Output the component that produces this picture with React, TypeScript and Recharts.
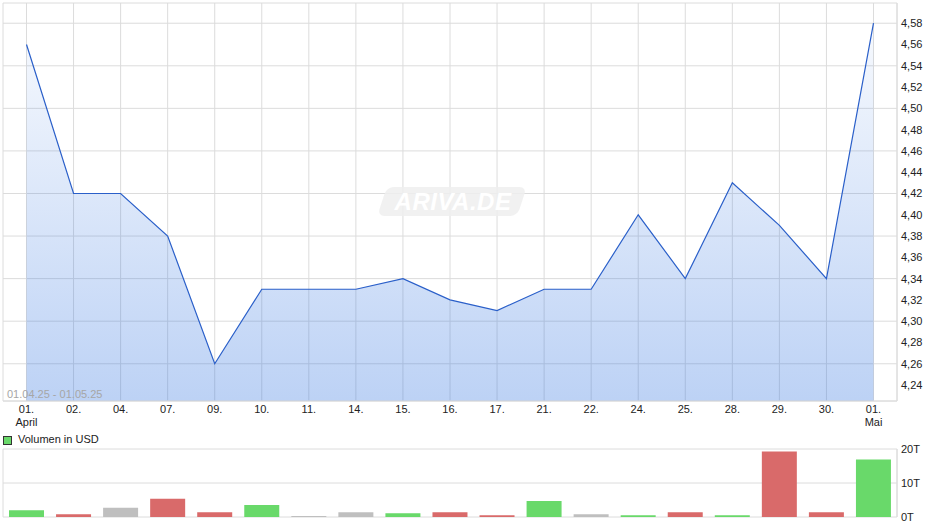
import React from "react"
import {
    Area,
    AreaChart,
    Bar,
    BarChart,
    CartesianGrid,
    Cell,
    XAxis,
    YAxis,
} from "recharts"

const days = ["01.", "02.", "04.", "07.", "09.", "10.", "11.", "14.", "15.", "16.", "17.", "21.", "22.", "24.", "25.", "28.", "29.", "30.", "01."]
const months = ["April", "", "", "", "", "", "", "", "", "", "", "", "", "", "", "", "", "", "Mai"]
const prices = [4.56, 4.42, 4.42, 4.38, 4.26, 4.33, 4.33, 4.33, 4.34, 4.32, 4.31, 4.33, 4.33, 4.4, 4.34, 4.43, 4.39, 4.34, 4.58]
// volume in thousand USD (T)
const volumes = [2.0, 0.8, 2.7, 5.4, 1.4, 3.5, 0.3, 1.4, 1.1, 1.4, 0.5, 4.7, 0.8, 0.5, 1.4, 0.5, 19.3, 1.4, 16.9]
const moves = ["up", "down", "flat", "down", "down", "up", "flat", "flat", "up", "down", "down", "up", "flat", "up", "down", "up", "down", "down", "up"]
const priceTicks = [4.24, 4.26, 4.28, 4.3, 4.32, 4.34, 4.36, 4.38, 4.4, 4.42, 4.44, 4.46, 4.48, 4.5, 4.52, 4.54, 4.56, 4.58]
const volumeTicks = [0, 10, 20]

const data = days.map((d, i) => ({
    key: i,
    day: d,
    month: months[i],
    price: prices[i],
    volume: volumes[i],
    move: moves[i],
}))

const moveColors: Record<string, string> = {
    up: "#69d96a",
    down: "#d96a6a",
    flat: "#bfbfbf",
}

const font = "'Liberation Sans', Arial, sans-serif"
const gridColor = "#dcdcdc"
const tickStyle = { fontSize: 11, fill: "#222", fontFamily: font }

function DayTick(props: any) {
    const { x, y, payload } = props
    const row = data[payload.value]
    return (
        <text x={x} y={y} textAnchor="middle" fontSize={11} fontFamily={font} fill="#222">
            <tspan x={x} dy={8}>{row.day}</tspan>
            {row.month && <tspan x={x} dy={12.5}>{row.month}</tspan>}
        </text>
    )
}

export default function App() {
    return (
        <div style={{ position: "absolute", left: 0, top: 0, width: 940, height: 526, background: "#fff", fontFamily: font }}>
            <AreaChart width={940} height={430} data={data} margin={{ top: 3, right: 0, bottom: 0, left: 3 }}>
                <defs>
                    <linearGradient id="priceFill" x1="0" y1="0" x2="0" y2="1">
                        <stop offset="0%" stopColor="#2f72e0" stopOpacity={0.04} />
                        <stop offset="100%" stopColor="#2f72e0" stopOpacity={0.32} />
                    </linearGradient>
                </defs>
                <CartesianGrid stroke={gridColor} />
                <XAxis
                    dataKey="key"
                    interval={0}
                    height={29}
                    tickLine={false}
                    tickSize={4}
                    tickMargin={0}
                    axisLine={{ stroke: gridColor }}
                    padding={{ left: 23.5, right: 23.5 }}
                    tick={<DayTick />}
                />
                <XAxis xAxisId="top" dataKey="key" orientation="top" height={0} tick={false} tickLine={false} axisLine={{ stroke: gridColor }} />
                <YAxis
                    orientation="right"
                    width={43}
                    domain={[4.225, 4.599]}
                    ticks={priceTicks}
                    allowDataOverflow
                    tickFormatter={(v: number) => v.toFixed(2).replace(".", ",")}
                    tickLine={false}
                    tickSize={4}
                    tickMargin={0}
                    axisLine={{ stroke: gridColor }}
                    tick={tickStyle}
                />
                <YAxis yAxisId="edge" orientation="left" width={0} tick={false} tickLine={false} axisLine={{ stroke: gridColor }} />
                <Area
                    type="linear"
                    dataKey="price"
                    stroke="#2a5fc9"
                    strokeWidth={1.2}
                    fill="url(#priceFill)"
                    fillOpacity={1}
                    dot={false}
                    activeDot={false}
                    isAnimationActive={false}
                />
            </AreaChart>

            <div style={{ position: "absolute", left: 7, top: 388, fontSize: 11, color: "#a6a6a6" }}>01.04.25 - 01.05.25</div>

            <div
                style={{
                    position: "absolute",
                    left: 382,
                    top: 187,
                    width: 140,
                    height: 29,
                    background: "#eeeeee",
                    borderRadius: 7,
                    transform: "skewX(-18deg)",
                    opacity: 0.85,
                }}
            />
            <div
                style={{
                    position: "absolute",
                    left: 388,
                    top: 188,
                    width: 130,
                    textAlign: "center",
                    fontSize: 24,
                    fontStyle: "italic",
                    fontWeight: "bold",
                    color: "#ffffff",
                    letterSpacing: 0.5,
                }}
            >
                ARIVA.DE
            </div>

            <div style={{ position: "absolute", left: 3, top: 436, width: 7, height: 7, background: "#69d96a", border: "1px solid #333" }} />
            <div style={{ position: "absolute", left: 18, top: 433, fontSize: 11, color: "#222" }}>Volumen in USD</div>

            <div style={{ position: "absolute", left: 0, top: 430 }}>
                <BarChart width={940} height={96} data={data} margin={{ top: 19, right: 0, bottom: 9, left: 3 }}>
                    <CartesianGrid stroke={gridColor} />
                    <XAxis dataKey="key" height={0} interval={0} tick={false} tickLine={false} axisLine={{ stroke: gridColor }} />
                    <YAxis
                        orientation="right"
                        width={43}
                        domain={[0, 20]}
                        ticks={volumeTicks}
                        tickFormatter={(v: number) => `${v}T`}
                        tickLine={false}
                        tickSize={4}
                        tickMargin={0}
                        axisLine={{ stroke: gridColor }}
                        tick={tickStyle}
                    />
                    <YAxis yAxisId="edge" orientation="left" width={0} tick={false} tickLine={false} axisLine={{ stroke: gridColor }} />
                    <Bar dataKey="volume" barSize={35} isAnimationActive={false}>
                        {data.map((row) => (
                            <Cell key={row.key} fill={moveColors[row.move]} />
                        ))}
                    </Bar>
                </BarChart>
            </div>
        </div>
    )
}
